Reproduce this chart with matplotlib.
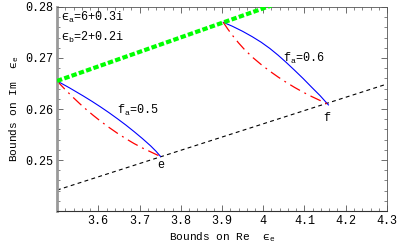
import numpy as np
import matplotlib
matplotlib.use("Agg")
import matplotlib.pyplot as plt
from matplotlib.ticker import MultipleLocator, FormatStrFormatter

# straight bound lines (end points)
green_x = [3.5, 4.02]
green_y = [0.2655, 0.2803]
black_x = [3.5, 4.3]
black_y = [0.2441, 0.2649]

# curved bounds, f_a = 0.5
blue5_x = [3.5, 3.53, 3.564, 3.585, 3.605, 3.625, 3.646, 3.667, 3.687, 3.707, 3.727, 3.74, 3.751]
blue5_y = [0.2655, 0.26416, 0.26254, 0.26149, 0.26044, 0.25934, 0.25812, 0.25685,
           0.25556, 0.25421, 0.25277, 0.25172, 0.2507]
red5_x = [3.5, 3.52, 3.54, 3.556, 3.572, 3.588, 3.605, 3.625, 3.646, 3.667, 3.687, 3.707, 3.727, 3.74, 3.751]
red5_y = [0.2655, 0.2638, 0.2622, 0.26098, 0.25983, 0.25874, 0.25765, 0.25645, 0.25527,
          0.25418, 0.25322, 0.25236, 0.2516, 0.2511, 0.2507]

# curved bounds, f_a = 0.6
blue6_x = [3.903, 3.925, 3.95, 3.973, 3.995, 4.016, 4.036, 4.056, 4.076, 4.097, 4.117, 4.138, 4.158]
blue6_y = [0.2770, 0.27623, 0.27523, 0.27419, 0.27309, 0.27187, 0.27055, 0.26911,
           0.26759, 0.26595, 0.2643, 0.2626, 0.2608]
red6_x = [3.903, 3.914, 3.925, 3.94, 3.954, 3.975, 3.995, 4.016, 4.036, 4.056, 4.076, 4.097, 4.117, 4.138, 4.158]
red6_y = [0.2770, 0.27568, 0.27447, 0.27297, 0.27171, 0.27007, 0.26871, 0.26741, 0.26627,
          0.26521, 0.26423, 0.26328, 0.26246, 0.26166, 0.26090]

mono = ["Liberation Mono", "DejaVu Sans Mono"]

fig = plt.figure(figsize=(4, 2.47), dpi=100)
ax = fig.add_axes([0.1425, 0.1457, 0.825, 0.826])

ax.plot(black_x, black_y, color="black", lw=0.8, linestyle=(0, (3.5, 3)))
ax.plot(green_x, green_y, color="#00ff00", lw=3.0, linestyle=(0, (1.3, 0.55)),
        solid_capstyle="butt", zorder=3)
ax.plot(blue5_x, blue5_y, color="blue", lw=0.8)
ax.plot(blue6_x, blue6_y, color="blue", lw=0.8)
ax.plot(red5_x, red5_y, color="red", lw=0.9, linestyle=(0, (9, 4, 1.5, 4)))
ax.plot(red6_x, red6_y, color="red", lw=0.9, linestyle=(0, (9, 4, 1.5, 4)))

ax.set_xlim(3.5, 4.3)
ax.set_ylim(0.24, 0.28)

ax.xaxis.set_minor_locator(MultipleLocator(0.02))
ax.yaxis.set_minor_locator(MultipleLocator(0.002))
ax.set_xticks([3.6, 3.7, 3.8, 3.9, 4.0, 4.1, 4.2, 4.3])
ax.set_xticklabels(["3.6", "3.7", "3.8", "3.9", "4", "4.1", "4.2", "4.3"])
ax.set_yticks([0.25, 0.26, 0.27, 0.28])
ax.yaxis.set_major_formatter(FormatStrFormatter("%.2f"))

ax.tick_params(which="both", direction="in", top=True, right=True,
               labeltop=False, labelright=False, color="#555555")
ax.tick_params(which="major", length=4, width=0.6, labelsize=8.5, pad=3)
ax.tick_params(which="minor", length=2, width=0.5)
for lab in ax.get_xticklabels() + ax.get_yticklabels():
    lab.set_fontfamily(mono)

ax.spines["left"].set_color("#999999")
ax.spines["left"].set_linewidth(2.0)
ax.spines["bottom"].set_color("#333333")
ax.spines["bottom"].set_linewidth(0.8)
for s in ("top", "right"):
    ax.spines[s].set_color("#555555")
    ax.spines[s].set_linewidth(0.6)

ax.set_xlabel("Bounds on Re  $\\mathregular{\u03f5_e}$", family=mono, fontsize=8, labelpad=2)
ax.set_ylabel("Bounds on Im  $\\mathregular{\u03f5_e}$", family=mono, fontsize=8, labelpad=3)

ax.text(3.51, 0.2780, "$\\mathregular{\u03f5_a}$=6+0.3i", family=mono, fontsize=8.5, va="center")
ax.text(3.51, 0.2741, "$\\mathregular{\u03f5_b}$=2+0.2i", family=mono, fontsize=8.5, va="center")
ax.text(3.646, 0.2598, "$\\mathregular{f_a}$=0.5", family=mono, fontsize=8.5, va="center")
ax.text(4.049, 0.2700, "$\\mathregular{f_a}$=0.6", family=mono, fontsize=8.5, va="center")
ax.text(3.751, 0.2490, "e", family=mono, fontsize=8.5, ha="center", va="center")
ax.text(4.155, 0.2582, "f", family=mono, fontsize=8.5, ha="center", va="center")

fig.savefig("out.png", dpi=100)
